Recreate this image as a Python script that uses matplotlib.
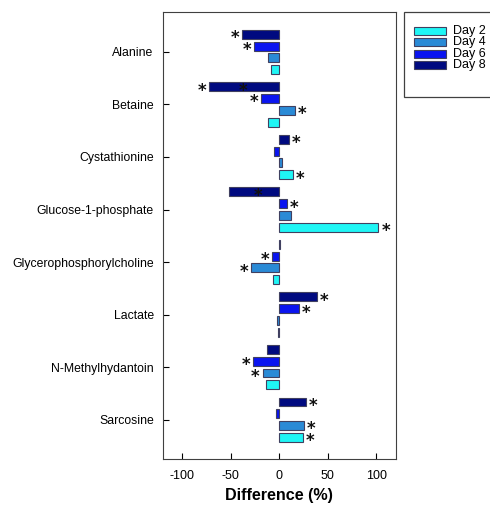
import numpy as np
import matplotlib.pyplot as plt
from matplotlib.patches import Rectangle
from matplotlib.transforms import offset_copy

plt.rcParams['font.family'] = ['Liberation Sans', 'DejaVu Sans']
plt.rcParams['axes.unicode_minus'] = False

# Data
metabolites = ["Alanine", "Betaine", "Cystathionine", "Glucose-1-phosphate",
               "Glycerophosphorylcholine", "Lactate", "N-Methylhydantoin", "Sarcosine"]
days = ["Day 2", "Day 4", "Day 6", "Day 8"]

day2 = [-9, -12, 14, 102, -6, -1, -14, 24]
day4 = [-12, 16, 2.5, 12, -29, -2.5, -17, 25]
day6 = [-26, -19, -5, 8, -7, 20, -27, -3]
day8 = [-38, -72, 10, -52, 0.5, 39, -13, 27]

# significance flags (asterisk next to bar)
sig2 = [0, 0, 1, 1, 0, 0, 0, 1]
sig4 = [0, 1, 0, 0, 1, 0, 1, 1]
sig6 = [1, 1, 0, 1, 1, 1, 1, 0]
sig8 = [1, 1, 1, 0, 0, 1, 0, 1]

# stray asterisks drawn inside bars in the original
inner_stars = [("Betaine", "Day 8", -37), ("Glucose-1-phosphate", "Day 8", -22)]

colors = ["#1ff5f5", "#2a8ad6", "#0a14f0", "#000a80"]

fig = plt.figure(figsize=(4.9, 5.12), dpi=100)
ax = fig.add_axes([0.332, 0.1035, 0.476, 0.873])

# asterisks sit high in the glyph box, so nudge them down onto the bar centre
star_tr = offset_copy(ax.transData, fig=fig, x=0, y=-2.8, units="points")

def star(x, y):
    ax.text(x, y, "*", ha="center", va="center", fontsize=12, family="DejaVu Sans",
            fontweight="bold", color="#101010", transform=star_tr, zorder=4)

n = len(metabolites)
ypos = np.arange(n)[::-1]
step = 0.224
offsets = {"Day 2": -1.5 * step, "Day 4": -0.5 * step, "Day 6": 0.5 * step, "Day 8": 1.5 * step}

series = [day2, day4, day6, day8]
sigs = [sig2, sig4, sig6, sig8]
for d, vals, sg, c in zip(days, series, sigs, colors):
    y = ypos + offsets[d]
    ax.barh(y, vals, height=0.17, color=c, edgecolor="#404060", linewidth=0.8)
    for yi, v, s in zip(y, vals, sg):
        if s:
            star(v + 7.5 if v >= 0 else v - 7.5, yi)

for name, d, xv in inner_stars:
    star(xv, ypos[metabolites.index(name)] + offsets[d])

ax.set_xlim(-120, 120)
ax.set_ylim(-0.75, n - 1 + 0.76)
ax.set_xticks([-100, -50, 0, 50, 100])
ax.set_yticks(ypos)
ax.set_yticklabels(metabolites)
ax.tick_params(direction="in", length=4)
ax.tick_params(axis="x", pad=8, labelsize=9)
ax.tick_params(axis="y", pad=6.5, labelsize=8.8)
for sp in ax.spines.values():
    sp.set_color("#404040")
ax.set_xlabel("Difference (%)", fontsize=11.6, fontweight="bold", labelpad=4)

# legend drawn by hand to match the original frame and row spacing
W, H = 490, 512
fig.patches.append(Rectangle((404 / W, 1 - 97 / H), 0.2, 85 / H,
                             transform=fig.transFigure, facecolor="white",
                             edgecolor="#404040", linewidth=0.9))
for i, (d, c) in enumerate(zip(days, colors)):
    yc = 31 + i * 11.3
    fig.patches.append(Rectangle((414 / W, 1 - (yc + 4) / H), 32 / W, 8 / H,
                                 transform=fig.transFigure, facecolor=c,
                                 edgecolor="#404060", linewidth=0.8))
    fig.text(453 / W, 1 - yc / H, d, ha="left", va="center", fontsize=9)

fig.savefig("out.png", dpi=100)
